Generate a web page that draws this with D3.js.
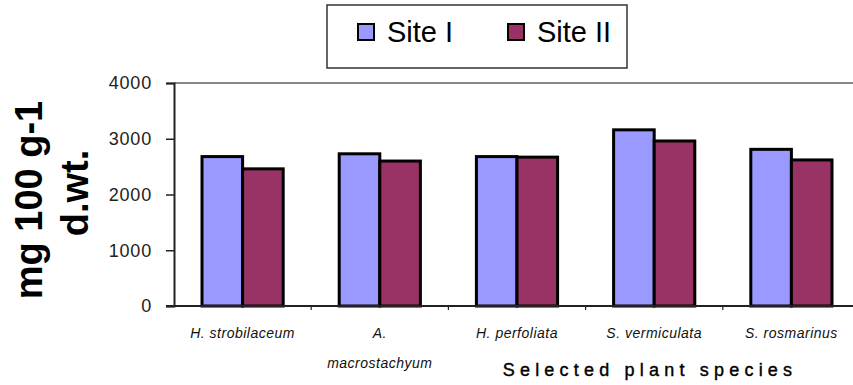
<!DOCTYPE html>
<html>
<head>
<meta charset="utf-8">
<script src="https://cdn.jsdelivr.net/npm/d3@7"></script>
<style>
  html, body { margin: 0; padding: 0; background: #fff; overflow: hidden; }
  svg { display: block; font-family: Arial, "Liberation Sans", sans-serif; }
</style>
</head>
<body>
<svg id="chart" width="853" height="385"></svg>
<script>
// Plant species and mineral content (mg 100 g-1 d.wt.) at the two sites
const species = ["H. strobilaceum", "A. macrostachyum", "H. perfoliata", "S. vermiculata", "S. rosmarinus"];
const speciesLines = [["H. strobilaceum"], ["A.", "macrostachyum"], ["H. perfoliata"], ["S. vermiculata"], ["S. rosmarinus"]];
const seriesNames = ["Site I", "Site II"];
const siteI = [2680, 2730, 2680, 3160, 2810];
const siteII = [2460, 2600, 2670, 2960, 2620];
const yTicks = [0, 1000, 2000, 3000, 4000];
const colors = ["#9999FF", "#993366"];

const svg = d3.select("#chart");
const plotLeft = 174, plotTop = 83, plotBottom = 306, step = 137.2;
const plotRight = plotLeft + step * species.length;

const x0 = d3.scaleBand().domain(species).range([plotLeft, plotRight]).padding(0);
const x1 = d3.scaleBand().domain(seriesNames).range([0, x0.bandwidth()])
  .paddingInner(0).paddingOuter(0.69);
const y = d3.scaleLinear().domain([0, 4000]).range([plotBottom, plotTop]);

// plot area top border
svg.append("line")
  .attr("x1", plotLeft).attr("x2", plotRight).attr("y1", plotTop).attr("y2", plotTop)
  .attr("stroke", "#888").attr("stroke-width", 2);

// bars
const rows = species.map((s, i) => ({ s, vals: [siteI[i], siteII[i]] }));
const groups = svg.append("g").selectAll("g").data(rows).join("g")
  .attr("transform", d => `translate(${x0(d.s)},0)`);
groups.selectAll("rect")
  .data(d => d.vals.map((v, k) => ({ name: seriesNames[k], v, k })))
  .join("rect")
  .attr("x", d => x1(d.name))
  .attr("width", x1.bandwidth())
  .attr("y", d => y(d.v))
  .attr("height", d => y(0) - y(d.v))
  .attr("fill", d => colors[d.k])
  .attr("stroke", "#000")
  .attr("stroke-width", 3);

// y axis
const yAxis = svg.append("g").attr("transform", `translate(${plotLeft},0)`)
  .call(d3.axisLeft(y).tickValues(yTicks).tickSize(8).tickPadding(14).tickFormat(d3.format("d")));
yAxis.select(".domain").attr("stroke", "#222").attr("stroke-width", 2);
yAxis.selectAll(".tick line").attr("stroke", "#222").attr("stroke-width", 1.5);
yAxis.selectAll(".tick text").attr("font-size", 18).attr("fill", "#222")
  .attr("letter-spacing", 0.8)
  .attr("font-family", "Arial, 'Liberation Sans', sans-serif");

// x axis with category boundary ticks
const xAxis = svg.append("g");
xAxis.append("line")
  .attr("x1", plotLeft - 8).attr("x2", plotRight).attr("y1", plotBottom).attr("y2", plotBottom)
  .attr("stroke", "#222").attr("stroke-width", 2);
xAxis.selectAll(".xt").data(species.slice(1)).join("line")
  .attr("class", "xt")
  .attr("x1", d => x0(d)).attr("x2", d => x0(d))
  .attr("y1", plotBottom).attr("y2", plotBottom + 4)
  .attr("stroke", "#222").attr("stroke-width", 1.2);

// category labels
const labels = svg.append("g").selectAll("text").data(species).join("text")
  .attr("x", d => x0(d) + x0.bandwidth() / 2)
  .attr("y", 338)
  .attr("text-anchor", "middle")
  .attr("font-size", 14)
  .attr("font-style", "italic")
  .attr("letter-spacing", 0.5)
  .attr("fill", "#111");
labels.each(function(d, i) {
  const t = d3.select(this);
  speciesLines[i].forEach((ln, j) => {
    t.append("tspan").attr("x", x0(d) + x0.bandwidth() / 2).attr("dy", j === 0 ? 0 : 30).text(ln);
  });
});

// axis titles
svg.append("text")
  .attr("x", 650).attr("y", 376)
  .attr("text-anchor", "middle")
  .attr("font-size", 18)
  .attr("letter-spacing", 5.2)
  .attr("fill", "#000")
  .attr("stroke", "#000").attr("stroke-width", 0.4)
  .text("Selected plant species");

const yTitle = [["mg 100 g-1", 42, 200], ["d.wt.", 88, 193]];
svg.append("g").selectAll("text").data(yTitle).join("text")
  .attr("transform", d => `translate(${d[1]},${d[2]}) rotate(-90)`)
  .attr("text-anchor", "middle")
  .attr("font-size", 38)
  .attr("font-weight", "bold")
  .attr("fill", "#000")
  .text(d => d[0]);

// legend
const lg = svg.append("g");
lg.append("rect")
  .attr("x", 327).attr("y", 5).attr("width", 300).attr("height", 63)
  .attr("fill", "#fff").attr("stroke", "#333").attr("stroke-width", 1.5);
const legendX = [358, 508];
const items = lg.selectAll("g").data(seriesNames).join("g")
  .attr("transform", (d, i) => `translate(${legendX[i]},24)`);
items.append("rect")
  .attr("width", 16).attr("height", 16)
  .attr("fill", (d, i) => colors[i])
  .attr("stroke", "#000").attr("stroke-width", 2);
items.append("text")
  .attr("x", 29).attr("y", 17.5)
  .attr("font-size", 29)
  .attr("fill", "#000")
  .text(d => d);
</script>
</body>
</html>
